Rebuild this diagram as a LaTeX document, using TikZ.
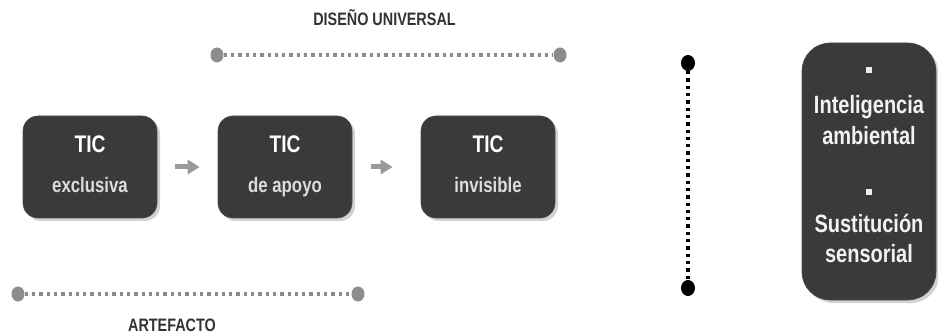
\documentclass[tikz,border=0pt]{standalone}
\usepackage{fontspec}
\setmainfont{Liberation Sans}[FakeStretch=0.8]
\usetikzlibrary{shapes.geometric,shadows,arrows.meta}

\definecolor{boxgray}{HTML}{3A3A3A}
\definecolor{subgray}{HTML}{DCDCDC}
\definecolor{dotgray}{HTML}{8C8C8C}
\definecolor{labelgray}{HTML}{333333}
\definecolor{arrowgray}{HTML}{9A9A9A}

\tikzset{
	ticbox/.style={rounded corners=15pt, fill=boxgray, draw=black!70, line width=0.6pt,
		minimum width=134pt, minimum height=102pt,
		drop shadow={shadow xshift=3pt, shadow yshift=-3pt, fill=black!35}},
	sidebox/.style={ticbox, rounded corners=28pt, minimum height=257pt},
	tictitle/.style={anchor=base, inner sep=0, text=white, font=\fontsize{24}{24}\selectfont\bfseries},
	ticsub/.style={anchor=base, inner sep=0, text=subgray, font=\fontsize{21}{21}\selectfont\bfseries},
	sidetext/.style={anchor=base, inner sep=0, text=white!95!black,
		font=\fontsize{25}{25}\selectfont\bfseries},
	sqbullet/.style={inner sep=0, minimum size=6.5pt, fill=white!92!black},
	endgray/.style={ellipse, inner sep=0, fill=dotgray, minimum width=13pt, minimum height=15pt},
	endblack/.style={ellipse, inner sep=0, fill=black, minimum width=14pt, minimum height=16pt},
	dotline/.style={line width=3.3pt, dash pattern=on 3.3pt off 4pt},
	scalelabel/.style={anchor=base, inner sep=0, text=labelgray, font=\fontsize{18}{18}\selectfont\bfseries},
	flowarrow/.style={arrowgray, line width=5pt, -{Triangle[length=12pt, width=14pt]}}
}

\begin{document}
\begin{tikzpicture}[x=1pt, y=-1pt]
	\useasboundingbox (0,0) rectangle (938,334);

	% Boxes
	\node[ticbox] (b1) at (90,167) {};
	\node[ticbox] (b2) at (285,167) {};
	\node[ticbox] (b3) at (488,167) {};
	\node[sidebox] (side) at (869,171.5) {};

	% Box texts
	\node[tictitle] (tic1) at (90,153) {TIC};
	\node[ticsub] (sub1) at (90,193) {exclusiva};
	\node[tictitle] (tic2) at (285,153) {TIC};
	\node[ticsub] (sub2) at (285,193) {de apoyo};
	\node[tictitle] (tic3) at (488,153) {TIC};
	\node[ticsub] (sub3) at (488,193) {invisible};

	\node[sqbullet] (dot1) at (869,70) {};
	\node[sidetext] (intel) at (869,114) {Inteligencia};
	\node[sidetext] (ambi) at (869,145) {ambiental};
	\node[sqbullet] (dot2) at (869,192) {};
	\node[sidetext] (susti) at (869,233) {Sustitución};
	\node[sidetext] (senso) at (869,262) {sensorial};

	% Arrows
	\draw[flowarrow] ([xshift=18pt]b1.east) -- ([xshift=-18pt]b2.west);
	\draw[flowarrow] ([xshift=19pt]b2.east) -- ([xshift=-28pt]b3.west);

	% Scales
	\node[endgray] (du-a) at (217,55) {};
	\node[endgray] (du-b) at (560,55) {};
	\draw[dotline, dotgray] (du-a) -- (du-b);
	\node[scalelabel] (du) at (384.5,26) {DISEÑO UNIVERSAL};

	\node[endgray] (art-a) at (18,294) {};
	\node[endgray] (art-b) at (358,294) {};
	\draw[dotline, dotgray] (art-a) -- (art-b);
	\node[scalelabel] (art) at (172,331) {ARTEFACTO};

	\node[endblack] (v-a) at (688,63) {};
	\node[endblack] (v-b) at (688,288) {};
	\draw[dotline, black, line width=3.5pt] (v-a) -- (v-b);

\end{tikzpicture}
\end{document}
